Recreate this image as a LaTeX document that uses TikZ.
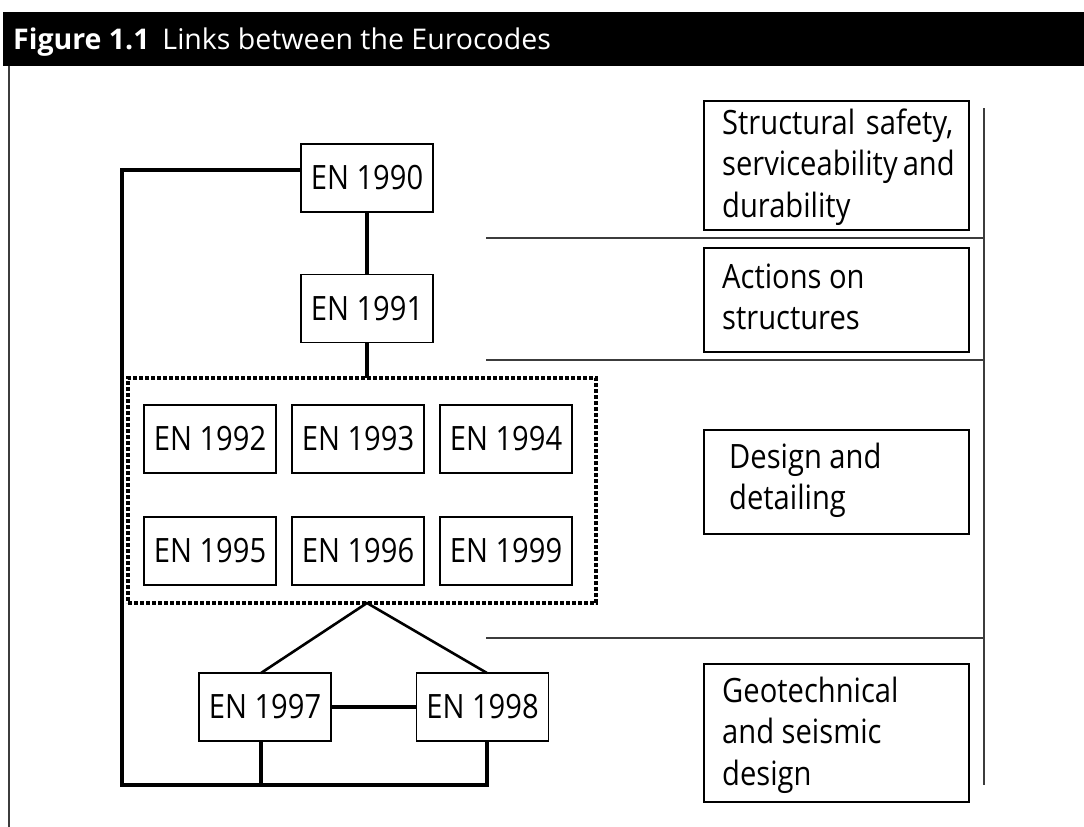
\documentclass[tikz,border=0pt]{standalone}
\usepackage{fontspec}
\setmainfont{Open Sans}
\newfontfamily\bodyfont[FakeStretch=0.87]{Open Sans}
\newfontfamily\headfont{Open Sans}
\definecolor{rulegray}{RGB}{60,60,60}
\begin{document}
\begin{tikzpicture}[x=1pt,y=-1pt,
  enbox/.style={draw, line width=1.2pt, minimum width=132pt, minimum height=68pt, inner sep=0pt, outer sep=0pt,
    font=\bodyfont\fontsize{33.5}{41.5}\selectfont},
  groupbox/.style={draw, line width=3.5pt, dash pattern=on 4pt off 2pt, minimum width=468pt, minimum height=225pt, inner sep=0pt, outer sep=0pt},
  labbox/.style={draw, line width=1.2pt, minimum width=265pt, inner sep=0pt, outer sep=0pt},
  labtext/.style={anchor=base west, inner sep=0pt, align=left, font=\bodyfont\fontsize{33.5}{41.5}\selectfont},
  thickline/.style={line width=4pt},
  midline/.style={line width=2.6pt},
  sepline/.style={draw=rulegray, line width=1.4pt}
]
\useasboundingbox (0,0) rectangle (1084,827);
% header
\fill[black] (3,12) rectangle (1084,66);
\node[anchor=base west, text=white, inner sep=0pt, font=\headfont\fontsize{28.5}{32}\selectfont] (title) at (13,49)
  {\textbf{Figure 1.1}\hspace{0.45em}Links between the Eurocodes};
\draw[draw=rulegray, line width=1.5pt] (9,66) -- (9,827);

% Eurocode boxes
\node[enbox] (e1990) at (367,178) {EN 1990};
\node[enbox] (e1991) at (367,308.5) {EN 1991};
\node[groupbox] (grp) at (362,490.5) {};
\node[enbox] (e1992) at (210,439) {EN 1992};
\node[enbox] (e1993) at (358,439) {EN 1993};
\node[enbox] (e1994) at (506,439) {EN 1994};
\node[enbox] (e1995) at (210,551) {EN 1995};
\node[enbox] (e1996) at (358,551) {EN 1996};
\node[enbox] (e1999) at (506,551) {EN 1999};
\node[enbox] (e1997) at (265,707) {EN 1997};
\node[enbox] (e1998) at (482.5,707) {EN 1998};

% connectors
\coordinate (lt) at (122,170);
\coordinate (lb) at (122,785);
\draw[thickline] (e1990.south) -- (e1991.north);
\draw[thickline] (e1991.south) -- (e1991.south |- grp.north);
\draw[thickline, line join=miter] ([yshift=8pt]e1990.west) -- (lt) -- (lb)
  -- ([xshift=4.5pt]e1998.south |- lb) -- ([xshift=4.5pt]e1998.south);
\draw[thickline] ([xshift=-4pt]e1997.south) -- ([xshift=-4pt]e1997.south |- lb);
\draw[thickline] (e1997.east) -- (e1998.west);
\draw[midline] ([xshift=-4pt]e1997.north) -- (e1991.south |- grp.south) -- ([xshift=4.5pt]e1998.north);

% right column
\draw[sepline] (486,238) -- (984,238);
\draw[sepline] (486,360) -- (984,360);
\draw[sepline] (486,638) -- (984,638);
\draw[sepline] (984,108) -- (984,785);

\node[labbox, minimum height=129pt] (lab1) at (836.5,165.5) {};
\node[labbox, minimum height=104pt] (lab2) at (836.5,300) {};
\node[labbox, minimum height=104pt] (lab3) at (836.5,482) {};
\node[labbox, minimum height=138pt] (lab4) at (836.5,733) {};

\node[labtext] (t1) at (722,217) {\makebox[231pt][s]{Structural safety,}\\\makebox[231pt][s]{serviceability and}\\durability};
\node[labtext] (t2) at (722,329.5) {Actions on\\structures};
\node[labtext] (t3) at (729,509.5) {Design and\\detailing};
\node[labtext] (t4) at (722,785) {Geotechnical\\and seismic\\design};
\end{tikzpicture}
\end{document}
